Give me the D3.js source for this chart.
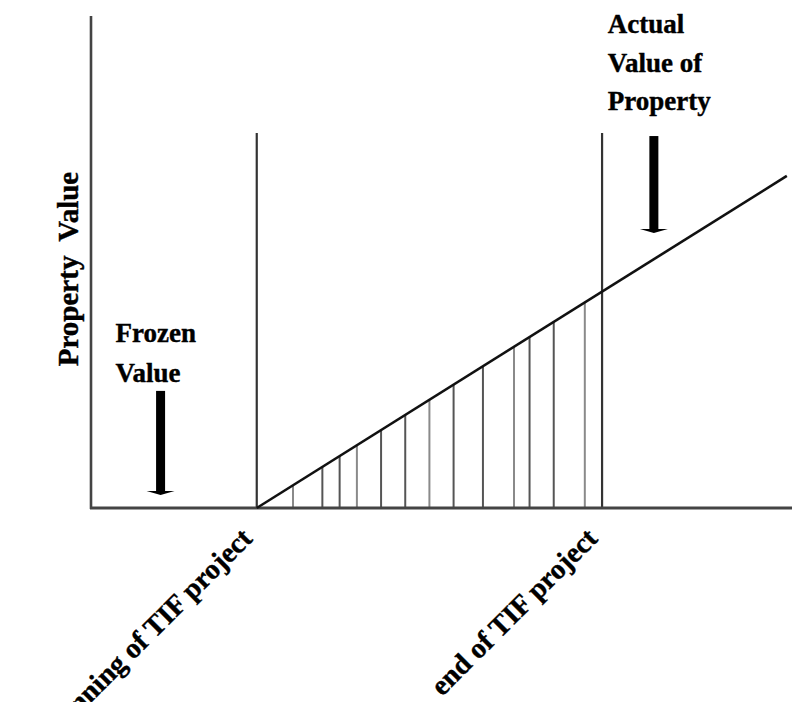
<!DOCTYPE html>
<html>
<head>
<meta charset="utf-8">
<script src="https://cdn.jsdelivr.net/npm/d3@7"></script>
<style>
  body { margin: 0; background: #fff; }
  text { font-family: "Liberation Serif", "DejaVu Serif", serif; font-weight: bold; fill: #000; stroke: #000; stroke-width: 0.4px; }
</style>
</head>
<body>
<div id="container"></div>
<script>
let w = 796;
let h = 702;

// time in years from start of the TIF project, value in arbitrary units
let axisExtent = [-9.6, 31.0];
let valueTop = 100;
let projectStart = 0;
let projectEnd = 20;
let markerTop = 76.2;
let actualLine = [[0, 0], [30.7, 67.5]];
let hatchYears = [2.1, 3.8, 4.8, 5.8, 7.2, 8.6, 10.0, 11.4, 13.1, 14.9, 15.8, 17.2, 19.0];
let frozenArrow = {t: -5.57, from: 23.8, to: 2.85};
let actualArrow = {t: 23.0, from: 75.6, to: 56.1};
let startLabel = "Beginning of TIF project";
let endLabel = "end of TIF project";
let frozenLines = ["Frozen", "Value"];
let actualLines = ["Actual", "Value of", "Property"];
let yTitle = "Property  Value";

let viz = d3.select("#container").append("svg")
    .attr("width", w)
    .attr("height", h)
;

let x = d3.scaleLinear().domain(axisExtent).range([91, 792]);
let y = d3.scaleLinear().domain([0, valueTop]).range([508, 16]);
let growth = d3.scaleLinear().domain(actualLine.map(d => d[0])).range(actualLine.map(d => d[1]));

// hatched area under the line
viz.selectAll(".hatch").data(hatchYears).enter()
    .append("line")
    .attr("class", "hatch")
    .attr("x1", d => x(d))
    .attr("x2", d => x(d))
    .attr("y1", y(0))
    .attr("y2", d => y(growth(d)))
    .attr("stroke", (d, i) => (i % 3 == 0 ? "#8a8a8a" : "#555"))
    .attr("stroke-width", 2)
;

// start / end markers
viz.selectAll(".marker").data([projectStart, projectEnd]).enter()
    .append("line")
    .attr("class", "marker")
    .attr("x1", d => x(d))
    .attr("x2", d => x(d))
    .attr("y1", y(0))
    .attr("y2", y(markerTop))
    .attr("stroke", "#333")
    .attr("stroke-width", 2.2)
;

// axes, drawn as plain lines (no ticks)
viz.append("line")
    .attr("x1", x(axisExtent[0])).attr("x2", x(axisExtent[0]))
    .attr("y1", y(0) + 1).attr("y2", y(valueTop))
    .attr("stroke", "#444").attr("stroke-width", 2.6);
viz.append("line")
    .attr("x1", x(axisExtent[0]) - 1).attr("x2", x(axisExtent[1]))
    .attr("y1", y(0)).attr("y2", y(0))
    .attr("stroke", "#444").attr("stroke-width", 2.8);

// actual value line
viz.append("path")
    .datum(actualLine)
    .attr("d", d3.line().x(d => x(d[0])).y(d => y(d[1])))
    .attr("fill", "none")
    .attr("stroke", "#111")
    .attr("stroke-width", 2.6)
;

// thick arrows
function arrow(a) {
  let cx = x(a.t);
  let g = viz.append("g");
  g.append("rect")
    .attr("x", cx - 4.5)
    .attr("y", y(a.from))
    .attr("width", 9)
    .attr("height", y(a.to) - y(a.from) - 2)
    .attr("fill", "#000");
  g.append("path")
    .attr("d", `M${cx - 14},${y(a.to) - 3} L${cx + 14},${y(a.to) - 3} L${cx},${y(a.to) + 1} Z`)
    .attr("fill", "#000");
}
arrow(frozenArrow);
arrow(actualArrow);

// annotation texts
viz.append("g").selectAll("text").data(frozenLines).enter()
    .append("text")
    .text(d => d)
    .attr("x", x(frozenArrow.t) - 45)
    .attr("y", (d, i) => y(frozenArrow.from) - 49 + i * 40)
    .attr("font-size", 27)
;
viz.append("g").selectAll("text").data(actualLines).enter()
    .append("text")
    .text(d => d)
    .attr("x", x(actualArrow.t) - 46)
    .attr("y", (d, i) => y(actualArrow.from) - 103 + i * 38.5)
    .attr("font-size", 27)
;

// y title
viz.append("text")
    .text(yTitle)
    .style("white-space", "pre")
    .attr("transform", `translate(78,${(y(0) + y(valueTop)) / 2 + 7}) rotate(-90)`)
    .attr("text-anchor", "middle")
    .attr("font-size", 29)
;

// rotated x labels
viz.selectAll(".xlab").data([[projectStart, startLabel], [projectEnd, endLabel]]).enter()
    .append("text")
    .attr("class", "xlab")
    .text(d => d[1])
    .attr("transform", d => `translate(${x(d[0]) - 3},${y(0) + 32}) rotate(-45)`)
    .attr("text-anchor", "end")
    .attr("font-size", 28.5)
;
</script>
</body>
</html>
